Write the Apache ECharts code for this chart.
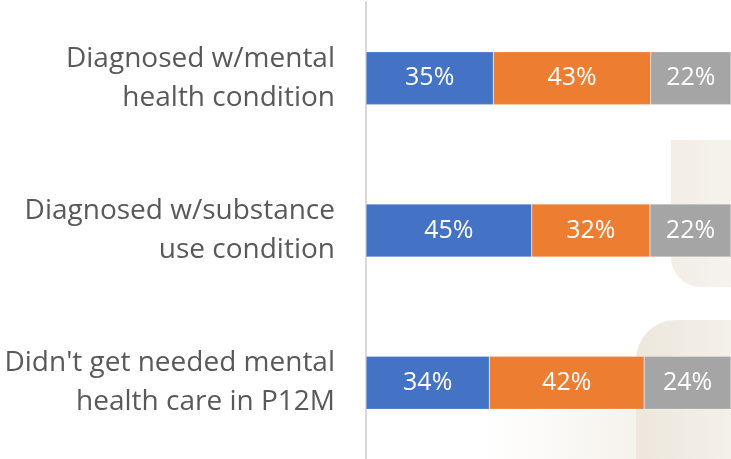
<!DOCTYPE html>
<html>
<head>
<meta charset="utf-8">
<script src="https://cdn.jsdelivr.net/npm/echarts@6/dist/echarts.min.js"></script>
<style>
  html, body { margin: 0; padding: 0; background: #fff; }
  #main { width: 731px; height: 459px; }
</style>
</head>
<body>
<div id="main"></div>
<script>
var categories = [
  'Diagnosed w/mental\nhealth condition',
  'Diagnosed w/substance\nuse condition',
  "Didn't get needed mental\nhealth care in P12M"
];
// shares in percent
var part1 = [34.9, 45.4, 33.8];
var part2 = [43.1, 32.4, 42.4];
var part3 = [22.0, 22.2, 23.8];
var colors = ['#4472C4', '#ED7D31', '#A5A5A5'];

var myChart = echarts.init(document.getElementById('main'));

function seg(name, data, color) {
  return {
    name: name,
    type: 'bar',
    stack: 'all',
    data: data,
    barWidth: 53,
    itemStyle: { color: color, borderColor: 'rgba(255,255,255,0.5)', borderWidth: 0.5 },
    label: {
      show: true,
      position: 'inside',
      formatter: function (p) { return Math.round(p.value) + '%'; },
      color: '#fff',
      fontSize: 25,
      fontFamily: 'Open Sans'
    }
  };
}

var option = {
  backgroundColor: '#fff',
  animation: false,
  // faint decorative shapes in the background
  graphic: [
    {
      type: 'rect', z: -10,
      shape: { x: 671, y: 140, width: 80, height: 147, r: [0, 0, 0, 30] },
      style: {
        fill: new echarts.graphic.LinearGradient(0, 0, 1, 0, [
          { offset: 0, color: '#f2eee6' }, { offset: 1, color: '#f7f4ef' }
        ])
      }
    },
    {
      type: 'rect', z: -10,
      shape: { x: 636, y: 320, width: 110, height: 160, r: [40, 0, 0, 0] },
      style: {
        fill: new echarts.graphic.LinearGradient(0, 0, 1, 0, [
          { offset: 0, color: '#ede7dc' }, { offset: 1, color: '#f5f2ec' }
        ])
      }
    },
    {
      type: 'rect', z: -11,
      shape: { x: 480, y: 410, width: 160, height: 49 },
      style: {
        fill: new echarts.graphic.LinearGradient(0, 0, 1, 0, [
          { offset: 0, color: 'rgba(246,243,237,0)' }, { offset: 1, color: '#f5f2ec' }
        ])
      }
    }
  ],
  grid: { left: 366, right: -2, top: 2, bottom: 0, containLabel: false },
  xAxis: {
    type: 'value',
    min: 0,
    max: 100,
    show: false
  },
  yAxis: {
    type: 'category',
    inverse: true,
    data: categories,
    axisLine: { show: true, lineStyle: { color: '#d9d9d9', width: 2 } },
    axisTick: { show: false },
    axisLabel: {
      margin: 31,
      color: '#595959',
      fontSize: 28,
      lineHeight: 39,
      fontFamily: 'Open Sans',
      align: 'right'
    }
  },
  series: [
    seg('A', part1, colors[0]),
    seg('B', part2, colors[1]),
    seg('C', part3, colors[2])
  ]
};

myChart.setOption(option);
</script>
</body>
</html>
